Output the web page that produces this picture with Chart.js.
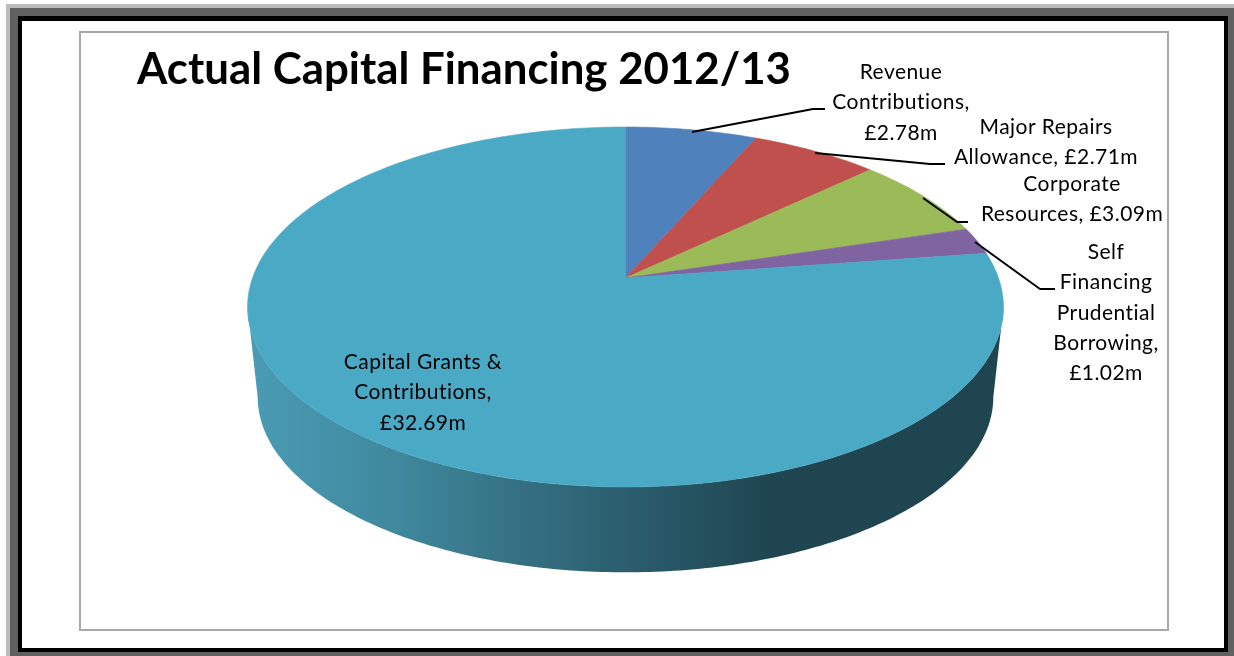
<!DOCTYPE html>
<html><head><meta charset="utf-8">
<title>Actual Capital Financing 2012/13</title>
<script src="https://cdn.jsdelivr.net/npm/chart.js@4"></script>
<style>
html,body{margin:0;padding:0;background:#fff;overflow:hidden}
#stage{position:relative;width:1234px;height:656px;overflow:hidden}
.f{position:absolute;box-sizing:border-box}
canvas{position:absolute;left:0;top:0}
</style></head><body>
<div id="stage">
<div class="f" style="left:6px;top:4px;width:1300px;height:700px;background:#bcbcbc"></div>
<div class="f" style="left:10px;top:8px;width:1300px;height:700px;background:#606060"></div>
<div class="f" style="left:18px;top:16px;width:1210px;height:636px;background:#fff;border:solid #000;border-width:5px 4px 4px 4px"></div>
<div class="f" style="left:79px;top:31px;width:1090px;height:600px;border:2px solid #a8a8a8"></div>
<canvas id="c" width="1234" height="656"></canvas>
</div>
<script>
const titleText = 'Actual Capital Financing 2012/13';
const categories = ['Revenue Contributions','Major Repairs Allowance','Corporate Resources','Self Financing Prudential Borrowing','Capital Grants & Contributions'];
const values = [2.78, 2.71, 3.09, 1.02, 32.69];
const colors = ['#4f81bd','#c0504d','#9bbb59','#8064a2','#4aa9c5'];
const labelLines = [
  ['Revenue','Contributions,','£2.78m'],
  ['Major Repairs','Allowance, £2.71m'],
  ['Corporate','Resources, £3.09m'],
  ['Self','Financing','Prudential','Borrowing,','£1.02m'],
  ['Capital Grants &','Contributions,','£32.69m']
];
const labelAnchors = [[901,72],[1046,127],[1072,184],[1106,252],[423,362]];
const leaders = [
  [[692,132],[813,109],[825,109]],
  [[815,153],[930,164],[945,164]],
  [[923,198],[957,222],[968,222]],
  [[975,242],[1040,289],[1055,289]],
  null
];
const rimStops = [[0,'#4a9cb4'],[0.2,'#3f889d'],[0.37,'#346f81'],[0.52,'#2a5b6c'],[0.69,'#1f4650'],[1,'#1f4650']];

const P = {c:-0.161, kx:373/151, ky:175.3/151};
const B = {kx:363/151, ky:170.6/151, dy:91};
function proj(arc, a, sc, dy){
  const u=Math.cos(a), v=Math.sin(a), d=1+P.c*v;
  return [arc.x + sc.kx*arc.outerRadius*u/d, arc.y + (dy||0) + sc.ky*arc.outerRadius*v/d];
}
const pie3d = {
  id:'pie3d',
  beforeDatasetDraw(chart){
    const ctx=chart.ctx, arcs=chart.getDatasetMeta(0).data, a0=arcs[0];
    const t0=Math.asin(-P.c), N=200;
    // side wall
    ctx.save();
    const g=ctx.createLinearGradient(247,0,1004,0);
    rimStops.forEach(s=>g.addColorStop(s[0],s[1]));
    ctx.beginPath();
    for(let i=0;i<=N;i++){const p=proj(a0,t0+(Math.PI-2*t0)*i/N,P); i?ctx.lineTo(p[0],p[1]):ctx.moveTo(p[0],p[1]);}
    for(let i=N;i>=0;i--){const p=proj(a0,t0+(Math.PI-2*t0)*i/N,B,B.dy); ctx.lineTo(p[0],p[1]);}
    ctx.closePath(); ctx.fillStyle=g; ctx.fill();
    // top face: each slice from the element the library computed
    arcs.forEach((arc,i)=>{
      const s=arc.startAngle,e=arc.endAngle,n=Math.max(8,Math.ceil((e-s)*60));
      ctx.beginPath(); ctx.moveTo(arc.x,arc.y);
      for(let j=0;j<=n;j++){const p=proj(arc,s+(e-s)*j/n,P); ctx.lineTo(p[0],p[1]);}
      ctx.closePath();
      ctx.fillStyle=colors[i]; ctx.strokeStyle=colors[i]; ctx.lineWidth=0.6;
      ctx.fill(); ctx.stroke();
    });
    ctx.restore();
    return false;
  },
  afterDatasetsDraw(chart){
    const ctx=chart.ctx;
    ctx.save();
    ctx.strokeStyle='#000'; ctx.lineWidth=2; ctx.lineJoin='round';
    leaders.forEach(l=>{ if(!l) return;
      ctx.beginPath(); l.forEach((p,i)=>i?ctx.lineTo(p[0],p[1]):ctx.moveTo(p[0],p[1])); ctx.stroke();
    });
    ctx.fillStyle='#000'; ctx.font='21px Lato'; ctx.letterSpacing='0.45px'; ctx.textAlign='center'; ctx.textBaseline='middle';
    labelLines.forEach((ls,i)=>ls.forEach((t,j)=>ctx.fillText(t,labelAnchors[i][0],labelAnchors[i][1]+j*30.4)));
    ctx.restore();
  }
};
new Chart(document.getElementById('c'),{
  type:'pie',
  data:{labels:categories,datasets:[{data:values,backgroundColor:colors,borderWidth:0}]},
  plugins:[pie3d],
  options:{
    responsive:false,animation:false,
    layout:{padding:{left:137,right:120,top:44,bottom:227}},
    plugins:{
      legend:{display:false},tooltip:{enabled:false},
      title:{display:true,text:titleText,align:'start',color:'#000',
        font:{family:'Lato',size:43.8,weight:'bold',lineHeight:1.2},padding:{top:0,bottom:30.44}}
    }
  }
});
</script>
</body></html>
